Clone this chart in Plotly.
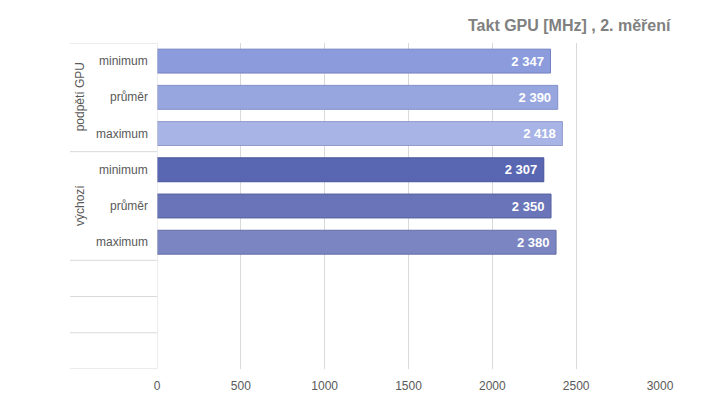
import plotly.graph_objects as go

groups = ["podpětí GPU", "podpětí GPU", "podpětí GPU", "výchozí", "výchozí", "výchozí"]
categories = ["minimum", "průměr", "maximum", "minimum", "průměr", "maximum"]
values = [2347, 2390, 2418, 2307, 2350, 2380]
bar_colors = ["#8b9bdc", "#98a6e0", "#a9b4e6", "#5966b2", "#6974b9", "#7a85c1"]
line_colors = ["#7382c4", "#808ec8", "#909bcc", "#47529a", "#56609f", "#646ea7"]
x_ticks = [0, 500, 1000, 1500, 2000, 2500, 3000]
title = "Takt GPU [MHz] , 2. měření"
n_rows = 9

ypos = list(range(len(values)))

fig = go.Figure()
fig.add_trace(go.Bar(
    x=values, y=ypos, orientation="h",
    marker=dict(color=bar_colors, line=dict(color=line_colors, width=1)),
    width=0.66,
    texttemplate="%{x:,}&nbsp;", textposition="inside", insidetextanchor="end",
    textfont=dict(color="white", size=13, family="Liberation Sans, Arial", weight="bold"),
    hoverinfo="skip",
))

grid = "#d9d9d9"
shapes = []
bounds = [-0.5, 2.5, 5.5, 6.5, 7.5, 8.5]
for b in bounds:
    shapes.append(dict(type="line", xref="paper", yref="y", x0=-0.173, x1=0, y0=b, y1=b,
                       line=dict(color=grid, width=1)))
shapes.append(dict(type="line", xref="x", yref="paper", x0=0, x1=0, y0=0, y1=1,
                   line=dict(color=grid, width=1)))

annotations = []
for i, c in enumerate(categories):
    annotations.append(dict(xref="paper", yref="y", x=0, y=i, text=c, showarrow=False,
                            xanchor="right", xshift=-7,
                            font=dict(size=12, color="#595959", family="Liberation Sans, Arial")))
seen = []
for g in groups:
    if g not in seen:
        seen.append(g)
for g in seen:
    idx = [i for i, gg in enumerate(groups) if gg == g]
    yc = (idx[0] + idx[-1]) / 2
    annotations.append(dict(xref="paper", yref="y", x=-0.153, y=yc, text=g, showarrow=False,
                            textangle=-90, xanchor="center", yanchor="middle",
                            font=dict(size=12, color="#595959", family="Liberation Sans, Arial")))
annotations.append(dict(xref="paper", yref="paper", x=1.026, y=1.02, text="<b>" + title + "</b>",
                        showarrow=False, xanchor="right", yanchor="bottom",
                        font=dict(size=16, color="#808080", family="Liberation Sans, Arial")))

fig.update_layout(
    width=719, height=407,
    margin=dict(l=149, r=67, t=35, b=46),
    paper_bgcolor="white", plot_bgcolor="white",
    separators=", ",
    showlegend=False,
    shapes=shapes,
    annotations=annotations,
    xaxis=dict(range=[0, 3000], tickvals=x_ticks, showgrid=True, gridcolor=grid, gridwidth=1,
               zeroline=False, showline=False, ticks="", ticklabelstandoff=8,
               tickfont=dict(size=12, color="#595959", family="Liberation Sans, Arial")),
    yaxis=dict(range=[n_rows - 0.5, -0.5], showticklabels=False, showgrid=False,
               zeroline=False, showline=False, ticks=""),
)

fig.write_html("out.html")
